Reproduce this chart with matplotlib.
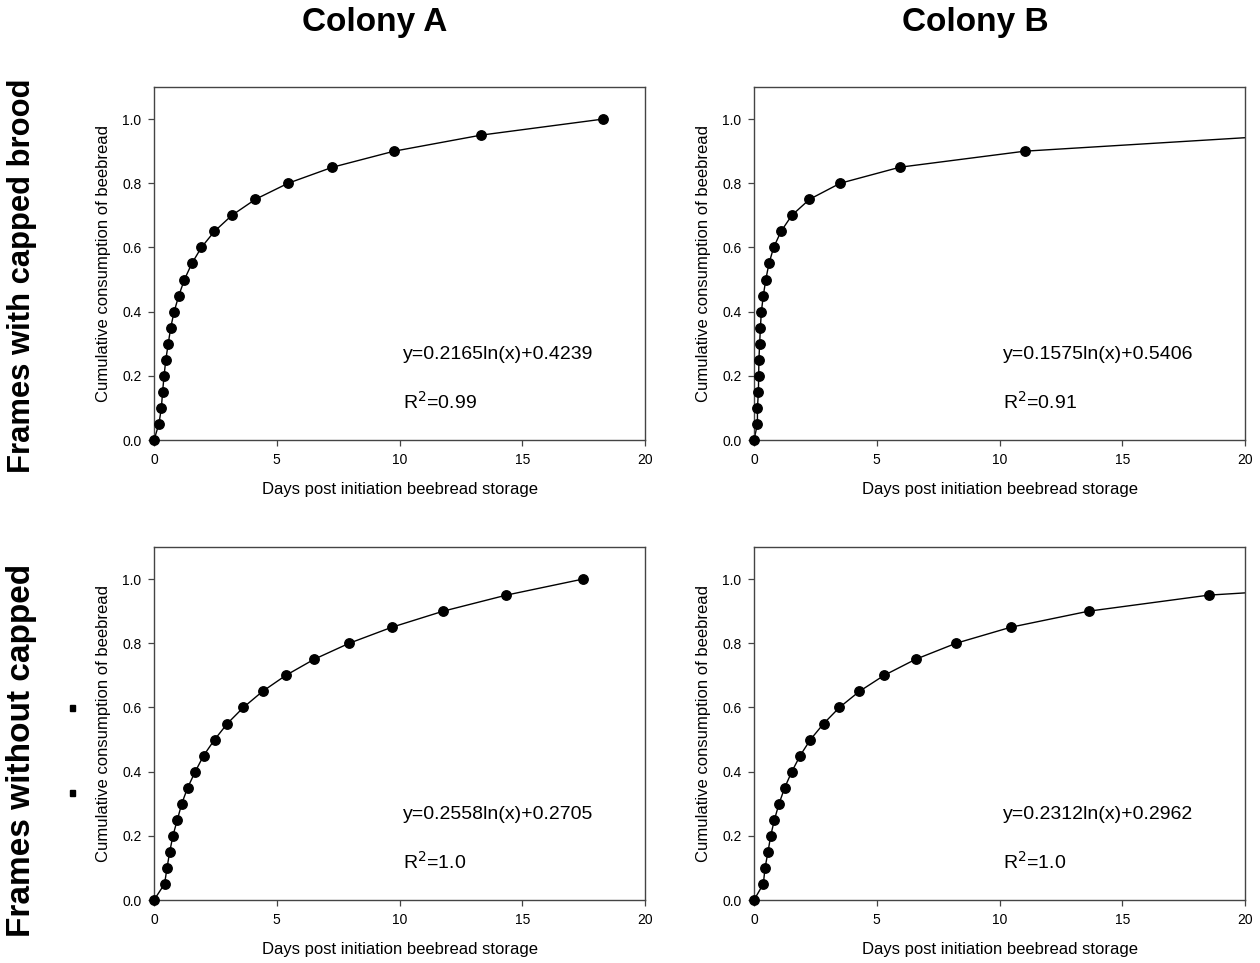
import matplotlib
matplotlib.use("Agg")
import matplotlib.pyplot as plt
from matplotlib.patches import Rectangle

plt.rcParams['font.family'] = ['Liberation Sans', 'DejaVu Sans']

# Cumulative consumption levels (y) shared by all panels
y_levels_full = [0.0, 0.05, 0.10, 0.15, 0.20, 0.25, 0.30, 0.35, 0.40, 0.45, 0.50,
                 0.55, 0.60, 0.65, 0.70, 0.75, 0.80, 0.85, 0.90, 0.95, 1.00]

# Days post initiation (x)
days_A_capped = [0.0, 0.20, 0.30, 0.35, 0.41, 0.48, 0.58, 0.68, 0.82, 1.01, 1.24,
                 1.54, 1.93, 2.46, 3.17, 4.13, 5.46, 7.27, 9.78, 13.32, 18.29]
days_B_capped = [0.0, 0.14, 0.14, 0.18, 0.19, 0.20, 0.23, 0.26, 0.30, 0.38, 0.48,
                 0.61, 0.80, 1.10, 1.54, 2.26, 3.51, 5.94, 11.03]
days_A_uncapped = [0.0, 0.43, 0.53, 0.64, 0.77, 0.95, 1.13, 1.37, 1.68, 2.02, 2.47,
                   2.99, 3.64, 4.42, 5.37, 6.52, 7.95, 9.69, 11.78, 14.35, 17.47]
days_B_uncapped = [0.0, 0.38, 0.45, 0.57, 0.68, 0.83, 1.02, 1.25, 1.54, 1.88, 2.30,
                   2.84, 3.48, 4.29, 5.30, 6.58, 8.23, 10.46, 13.63, 18.52]

# Fitted curve continuation to the axis end (x, y) where visible
tail_B_capped = (20.0, 0.942)
tail_B_uncapped = (20.0, 0.957)

equations = ["y=0.2165ln(x)+0.4239", "y=0.1575ln(x)+0.5406",
             "y=0.2558ln(x)+0.2705", "y=0.2312ln(x)+0.2962"]
r2_values = ["0.99", "0.91", "1.0", "1.0"]

col_titles = ["Colony A", "Colony B"]
row_titles = ["Frames with capped brood", "Frames without capped"]

x_ticks = [0, 5, 10, 15, 20]
y_ticks = [0.0, 0.2, 0.4, 0.6, 0.8, 1.0]

W, H = 1260, 963
fig = plt.figure(figsize=(W / 100, H / 100), dpi=100)

def ax_rect(left, right, top, bottom):
    return [left / W, 1 - bottom / H, (right - left) / W, (bottom - top) / H]

rects = [ax_rect(154, 645, 87, 440), ax_rect(754, 1245, 87, 440),
         ax_rect(154, 645, 547, 900), ax_rect(754, 1245, 547, 900)]

panels = [
    (days_A_capped, y_levels_full[:len(days_A_capped)], None),
    (days_B_capped, y_levels_full[:len(days_B_capped)], tail_B_capped),
    (days_A_uncapped, y_levels_full[:len(days_A_uncapped)], None),
    (days_B_uncapped, y_levels_full[:len(days_B_uncapped)], tail_B_uncapped),
]

spine_col = '#444444'
for i, (rect, (xs, ys, tail)) in enumerate(zip(rects, panels)):
    ax = fig.add_axes(rect)
    lx, ly = list(xs), list(ys)
    if tail is not None:
        lx.append(tail[0]); ly.append(tail[1])
    ax.plot(lx, ly, color='black', lw=1.0, zorder=2, clip_on=False)
    ax.plot(xs, ys, 'o', color='black', markersize=6.8, zorder=3, clip_on=False)
    ax.set_xlim(0, 20)
    ax.set_ylim(0, 1.1)
    ax.set_xticks(x_ticks)
    ax.set_xticklabels([str(t) for t in x_ticks])
    ax.set_yticks(y_ticks)
    ax.set_yticklabels([f"{t:.1f}" for t in y_ticks])
    ax.tick_params(direction='out', length=4, width=0.9, labelsize=10,
                   colors=spine_col, labelcolor='black', pad=5)
    for s in ax.spines.values():
        s.set_color(spine_col)
        s.set_linewidth(1.0)
    ax.set_xlabel("Days post initiation beebread storage", fontsize=12, labelpad=11)
    ax.set_ylabel("Cumulative consumption of beebread", fontsize=12, labelpad=8)
    ax.text(10.15, 0.265, equations[i], fontsize=14, va='center', ha='left')
    ax.text(10.15, 0.118, "R$^{2}$=" + r2_values[i], fontsize=14, va='center', ha='left')

fig.text(375 / W, 1 - 22 / H, col_titles[0], fontsize=24, fontweight='bold',
         ha='center', va='center')
fig.text(975 / W, 1 - 22 / H, col_titles[1], fontsize=24, fontweight='bold',
         ha='center', va='center')
fig.text(22 / W, 1 - 276 / H, row_titles[0], fontsize=22.3, fontweight='bold',
         rotation=90, ha='center', va='center')
fig.text(22 / W, 1 - 750 / H, row_titles[1], fontsize=24, fontweight='bold',
         rotation=90, ha='center', va='center')

# small stray marks next to the lower row label
for yy in (708, 793):
    fig.patches.append(Rectangle(((70) / W, 1 - (yy + 3) / H), 5 / W, 6 / H,
                                 transform=fig.transFigure, color='black'))

fig.savefig("out.png", dpi=100)
